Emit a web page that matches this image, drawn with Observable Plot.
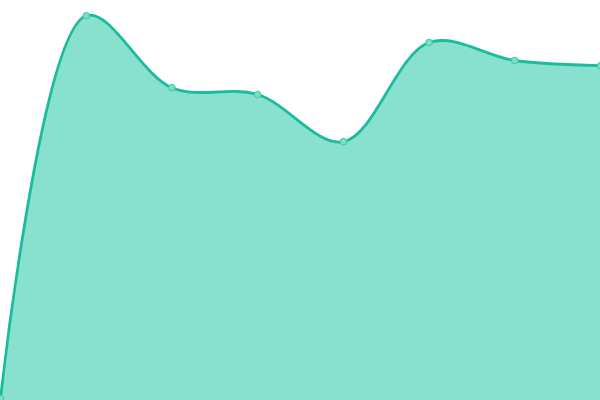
<!DOCTYPE html>
<html><head><meta charset="utf-8">
<script src="https://cdn.jsdelivr.net/npm/d3@7"></script>
<script src="https://cdn.jsdelivr.net/npm/@observablehq/plot@0.6"></script>
<style>html,body{margin:0;padding:0;background:#fff;overflow:hidden}</style>
</head><body><div id="chart"></div>
<script>
const xs = [0, 1, 2, 3, 4, 5, 6, 7];
const values = [0.5, 96.2, 78.2, 76.5, 64.7, 89.5, 85, 83.7];
const data = xs.map((x, i) => ({x, v: values[i]}));
const chart = Plot.plot({
  width: 600, height: 400,
  margin: 0,
  x: {domain: [0, 7], axis: null},
  y: {domain: [0, 100], axis: null},
  marks: [
    Plot.areaY(data, {x: "x", y: "v", curve: "catmull-rom", fill: "#88e0ce"}),
    Plot.lineY(data, {x: "x", y: "v", curve: "catmull-rom", stroke: "#1abc9c", strokeWidth: 2.8}),
    Plot.dot(data, {x: "x", y: "v", r: 3.3, fill: "#7fdcc6", stroke: "#3cc8a8", strokeWidth: 1})
  ]
});
document.getElementById("chart").appendChild(chart);
</script></body></html>
